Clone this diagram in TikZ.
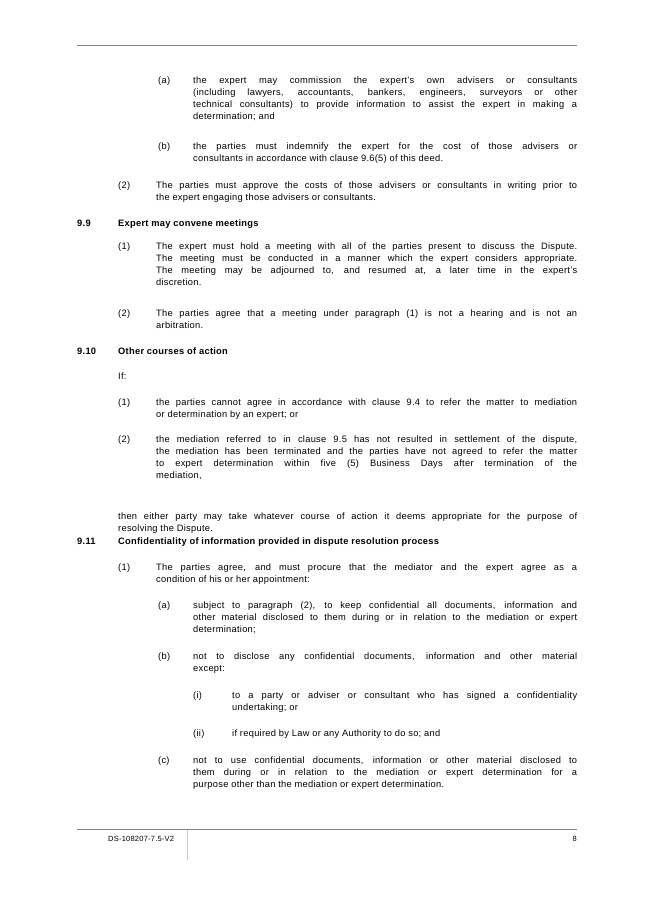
\documentclass[tikz,border=0pt]{standalone}
\usepackage{fontspec}
\setmainfont{Liberation Sans}[LetterSpace=3]
\begin{document}
\begin{tikzpicture}[x=1pt,y=-1pt,
 txt/.style={anchor=north west,inner sep=0pt,align=justify,font=\fontsize{9.3}{12}\selectfont},
 lbl/.style={anchor=north west,inner sep=0pt,font=\fontsize{9.3}{12}\selectfont},
 hd/.style={anchor=north west,inner sep=0pt,font=\fontsize{9.3}{12}\selectfont\bfseries}]
\useasboundingbox[fill=white] (0,0) rectangle (653,923);
\draw[gray,line width=0.6pt] (77,45) -- (577,45);
% (a)
\node[lbl] (la1) at (158,77) {(a)};
\node[txt,text width=384] (ta1) at (193,77) {the expert may commission the expert's own advisers or consultants\linebreak (including lawyers, accountants, bankers, engineers, surveyors or other\linebreak technical consultants) to provide information to assist the expert in making a\linebreak determination; and};
\node[lbl] (lb1) at (158,143) {(b)};
\node[txt,text width=384] (tb1) at (193,143) {the parties must indemnify the expert for the cost of those advisers or\linebreak consultants in accordance with clause 9.6(5) of this deed.};
\node[lbl] (l21) at (118,182) {(2)};
\node[txt,text width=421] (t21) at (156,182) {The parties must approve the costs of those advisers or consultants in writing prior to\linebreak the expert engaging those advisers or consultants.};
% 9.9
\node[hd] (h99) at (77,220) {9.9};
\node[hd] (h99t) at (118,220) {Expert may convene meetings};
\node[lbl] (l991) at (118,243) {(1)};
\node[txt,text width=421] (t991) at (156,243) {The expert must hold a meeting with all of the parties present to discuss the Dispute.\linebreak The meeting must be conducted in a manner which the expert considers appropriate.\linebreak The meeting may be adjourned to, and resumed at, a later time in the expert's\linebreak discretion.};
\node[lbl] (l992) at (118,310) {(2)};
\node[txt,text width=421] (t992) at (156,310) {The parties agree that a meeting under paragraph (1) is not a hearing and is not an\linebreak arbitration.};
% 9.10
\node[hd] (h910) at (77,348) {9.10};
\node[hd] (h910t) at (118,348) {Other courses of action};
\node[lbl] (if) at (118,373) {If:};
\node[lbl] (l9101) at (118,399) {(1)};
\node[txt,text width=421] (t9101) at (156,399) {the parties cannot agree in accordance with clause 9.4 to refer the matter to mediation\linebreak or determination by an expert; or};
\node[lbl] (l9102) at (118,436) {(2)};
\node[txt,text width=421] (t9102) at (156,436) {the mediation referred to in clause 9.5 has not resulted in settlement of the dispute,\linebreak the mediation has been terminated and the parties have not agreed to refer the matter\linebreak to expert determination within five (5) Business Days after termination of the\linebreak mediation,};
\node[txt,text width=459] (then) at (118,513) {then either party may take whatever course of action it deems appropriate for the purpose of\linebreak resolving the Dispute.};
% 9.11
\node[hd] (h911) at (77,538) {9.11};
\node[hd] (h911t) at (118,538) {Confidentiality of information provided in dispute resolution process};
\node[lbl] (l9111) at (118,564) {(1)};
\node[txt,text width=421] (t9111) at (156,564) {The parties agree, and must procure that the mediator and the expert agree as a\linebreak condition of his or her appointment:};
\node[lbl] (la2) at (158,602) {(a)};
\node[txt,text width=384] (ta2) at (193,602) {subject to paragraph (2), to keep confidential all documents, information and\linebreak other material disclosed to them during or in relation to the mediation or expert\linebreak determination;};
\node[lbl] (lb2) at (158,653) {(b)};
\node[txt,text width=384] (tb2) at (193,653) {not to disclose any confidential documents, information and other material\linebreak except:};
\node[lbl] (li) at (193,692) {(i)};
\node[txt,text width=345] (ti) at (232,692) {to a party or adviser or consultant who has signed a confidentiality\linebreak undertaking; or};
\node[lbl] (lii) at (193,730) {(ii)};
\node[txt,text width=345] (tii) at (232,730) {if required by Law or any Authority to do so; and};
\node[lbl] (lc2) at (158,757) {(c)};
\node[txt,text width=384] (tc2) at (193,757) {not to use confidential documents, information or other material disclosed to\linebreak them during or in relation to the mediation or expert determination for a\linebreak purpose other than the mediation or expert determination.};
% footer
\draw[gray,line width=0.6pt] (77,829) -- (577,829);
\draw[gray!40,line width=0.4pt] (187,830) -- (187,860);
\node[anchor=north west,inner sep=0pt,font=\fontsize{7.5}{9}\selectfont] (ft) at (108,836) {DS-108207-7.5-V2};
\node[anchor=north east,inner sep=0pt,font=\fontsize{7.5}{9}\selectfont] (pg) at (577,836) {8};
\end{tikzpicture}
\end{document}
